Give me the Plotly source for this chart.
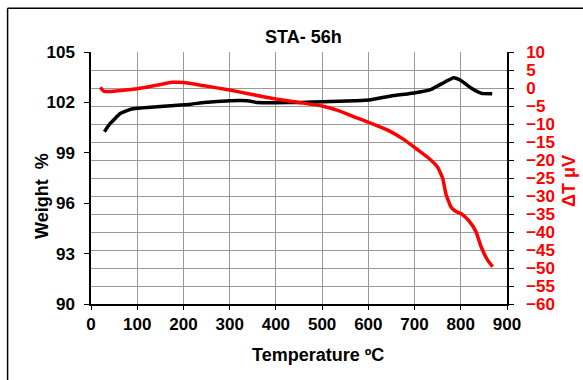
import plotly.graph_objects as go

# Weight (TG) curve
temp_w = [29, 42, 64, 86, 100, 143, 172, 216, 245, 302, 338, 360, 400, 454, 502,
          570, 602, 649, 702, 736, 758, 785, 801, 823, 845, 868]
weight = [100.26, 100.76, 101.35, 101.59, 101.65, 101.74, 101.80, 101.89, 102.00,
          102.10, 102.10, 101.99, 101.98, 102.00, 102.04, 102.10, 102.14, 102.38,
          102.58, 102.78, 103.10, 103.47, 103.29, 102.84, 102.54, 102.52]

# DTA curve
temp_d = [20, 28, 40, 56, 100, 143, 176, 201, 245, 300, 346, 400, 450, 500, 534,
          569, 602, 642, 678, 703, 727, 750, 761, 768, 779, 790, 802, 819, 833, 844,
          858, 869]
delta_t = [0.2, -0.9, -1.0, -0.8, -0.2, 0.8, 1.6, 1.5, 0.6, -0.55, -1.75, -3.05,
           -4.0, -5.0, -6.2, -8.0, -9.6, -11.7, -14.4, -16.8, -19.1, -22.0, -25.1,
           -29.5, -33.1, -34.3, -35.0, -37.1, -39.9, -44.1, -47.8, -49.6]

x_ticks = list(range(0, 901, 100))
w_ticks = [90, 93, 96, 99, 102, 105]
d_ticks = list(range(-60, 11, 5))

FONT = "Liberation Sans, Arial, sans-serif"

fig = go.Figure()
fig.add_trace(go.Scatter(x=temp_w, y=weight, mode="lines", yaxis="y",
                         line=dict(color="black", width=3.5, shape="spline", smoothing=0.4),
                         showlegend=False))
fig.add_trace(go.Scatter(x=temp_d, y=delta_t, mode="lines", yaxis="y2",
                         line=dict(color="#ff0000", width=3.5, shape="spline", smoothing=0.4),
                         showlegend=False))

fig.update_layout(
    width=583, height=380,
    margin=dict(l=91, r=76, t=52, b=76),
    paper_bgcolor="white", plot_bgcolor="white",
    font=dict(family=FONT, color="black"),
    xaxis=dict(range=[0, 900], tickvals=x_ticks, showgrid=True, gridcolor="#999999",
               gridwidth=1, zeroline=False, showline=True, linecolor="black", linewidth=1.5,
               ticks="outside", ticklen=4, tickcolor="black",
               tickfont=dict(size=17, family=FONT, color="black", weight="bold")),
    yaxis=dict(range=[90, 105], tickvals=w_ticks, showgrid=False, zeroline=False,
               showline=True, linecolor="black", linewidth=1.5, ticks="outside", ticklen=5,
               tickcolor="black", ticklabelstandoff=6,
               tickfont=dict(size=17, family=FONT, color="black", weight="bold")),
    yaxis2=dict(range=[-60, 10], tickvals=d_ticks, overlaying="y", side="right",
                showgrid=True, gridcolor="#999999", gridwidth=1, zeroline=False,
                showline=True, linecolor="black", linewidth=1.5, ticks="outside", ticklen=5,
                tickcolor="black", ticklabelstandoff=9,
                tickfont=dict(size=17, family=FONT, color="#ff0000", weight="bold")),
)

fig.add_annotation(text="STA- 56h", xref="paper", yref="paper", x=0.5, y=1.0,
                   xanchor="center", yanchor="middle",
                   yshift=15, xshift=4, showarrow=False,
                   font=dict(size=18, family=FONT, color="black", weight="bold"))
fig.add_annotation(text="Temperature ºC", xref="paper", yref="paper", x=0.5, y=0,
                   xanchor="center", yanchor="middle",
                   yshift=-51, xshift=19, showarrow=False,
                   font=dict(size=18, family=FONT, color="black", weight="bold"))
fig.add_annotation(text="Weight  %", xref="paper", yref="paper", x=0, y=0.5,
                   xanchor="center", yanchor="middle",
                   xshift=-49, yshift=-18, textangle=-90, showarrow=False,
                   font=dict(size=18, family=FONT, color="black", weight="bold"))
fig.add_annotation(text="ΔT μV", xref="paper", yref="paper", x=1, y=0.5,
                   xanchor="center", yanchor="middle",
                   xshift=62, yshift=-3, textangle=-90, showarrow=False,
                   font=dict(size=18, family=FONT, color="#ff0000", weight="bold"))

# outer chart frame (left and top edges visible)
fig.add_shape(type="line", xref="paper", yref="paper", x0=-0.2005, x1=-0.2005,
              y0=-0.4, y1=1.1734, line=dict(color="black", width=1.5))
fig.add_shape(type="line", xref="paper", yref="paper", x0=-0.2005, x1=1.3,
              y0=1.1734, y1=1.1734, line=dict(color="black", width=1.5))

fig.write_html("out.html")
